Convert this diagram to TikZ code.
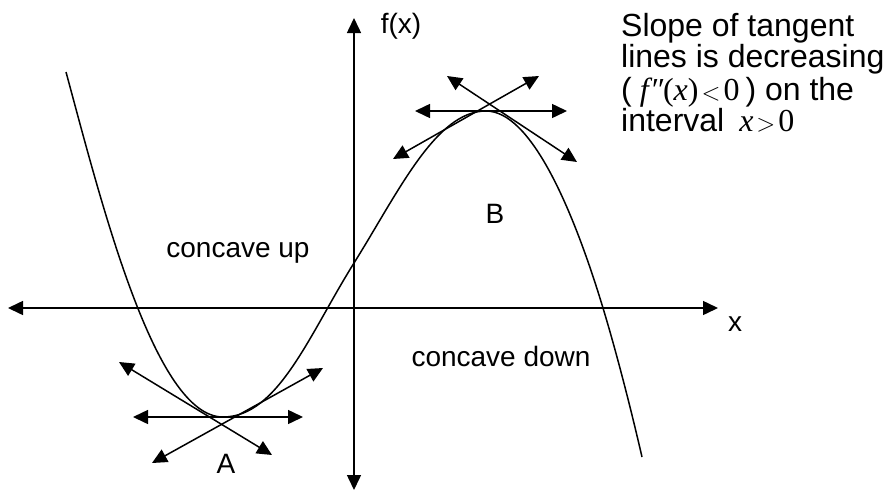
\documentclass[tikz,border=0pt]{standalone}
\usepackage{fontspec}
\setmainfont{Liberation Sans}
\newfontfamily\tnr{Liberation Serif}
\usetikzlibrary{arrows.meta}
\newcommand{\bigrel}[1]{{\fontsize{38}{40}\selectfont$#1$}}
\begin{document}
\begin{tikzpicture}[x=1pt,y=-1pt,
  dbl/.style={line width=1.5pt,{Triangle[length=15pt,width=14pt]}-{Triangle[length=15pt,width=14pt]}},
  curve/.style={line width=1.5pt},
  lbl/.style={inner sep=0pt,anchor=base,font=\fontsize{28}{32}\selectfont},
  rtxt/.style={inner sep=0pt,anchor=base west,font=\fontsize{32}{36}\selectfont}]
\useasboundingbox (0,0) rectangle (889,493);
% axes
\coordinate (xL) at (8,308);
\coordinate (xR) at (718,308);
\coordinate (yT) at (354,18);
\coordinate (yB) at (354,490);
\draw[dbl] (xL) -- (xR);
\draw[dbl] (yB) -- (yT);
% curve
\draw[curve] (66,72) .. controls (102,205) and (155,417) .. (223,417)
  .. controls (278,417) and (309,335) .. (354,263)
  .. controls (399,191) and (436,111) .. (486,111)
  .. controls (531,111) and (573,209) .. (603,308)
  .. controls (616,351) and (630,405) .. (642,457);
% tangents at A
\coordinate (a1) at (133,417); \coordinate (a2) at (303,417);
\coordinate (a3) at (119,362); \coordinate (a4) at (272,455);
\coordinate (a5) at (152,463); \coordinate (a6) at (323,368);
\draw[dbl] (a1) -- (a2);
\draw[dbl] (a3) -- (a4);
\draw[dbl] (a5) -- (a6);
% tangents at B
\coordinate (b1) at (415,111); \coordinate (b2) at (567,111);
\coordinate (b3) at (447,76);  \coordinate (b4) at (577,162);
\coordinate (b5) at (393,159); \coordinate (b6) at (539,76);
\draw[dbl] (b1) -- (b2);
\draw[dbl] (b3) -- (b4);
\draw[dbl] (b5) -- (b6);
% labels
\node[lbl] (fx) at (401,33) {f(x)};
\node[lbl] (xlab) at (735,331) {x};
\node[lbl] (cu) at (238,257) {concave up};
\node[lbl] (cd) at (501,366) {concave down};
\node[lbl] (B) at (495,223) {B};
\node[lbl] (A) at (226,473) {A};
\node[rtxt] (r1) at (621,36) {Slope of tangent};
\node[rtxt] (r2) at (621,67) {lines is decreasing};
\node[rtxt] (r3) at (621,100) {(\kern8pt{\tnr\itshape f\kern1pt″}{\tnr(}{\tnr\itshape x}{\tnr)}\kern3pt\bigrel{<}\kern3pt{\tnr 0}\kern6pt) on the};
\node[rtxt] (r4) at (621,131) {interval \kern6pt{\tnr\itshape x}\kern3pt\bigrel{>}\kern3pt{\tnr 0}};
\end{tikzpicture}
\end{document}
